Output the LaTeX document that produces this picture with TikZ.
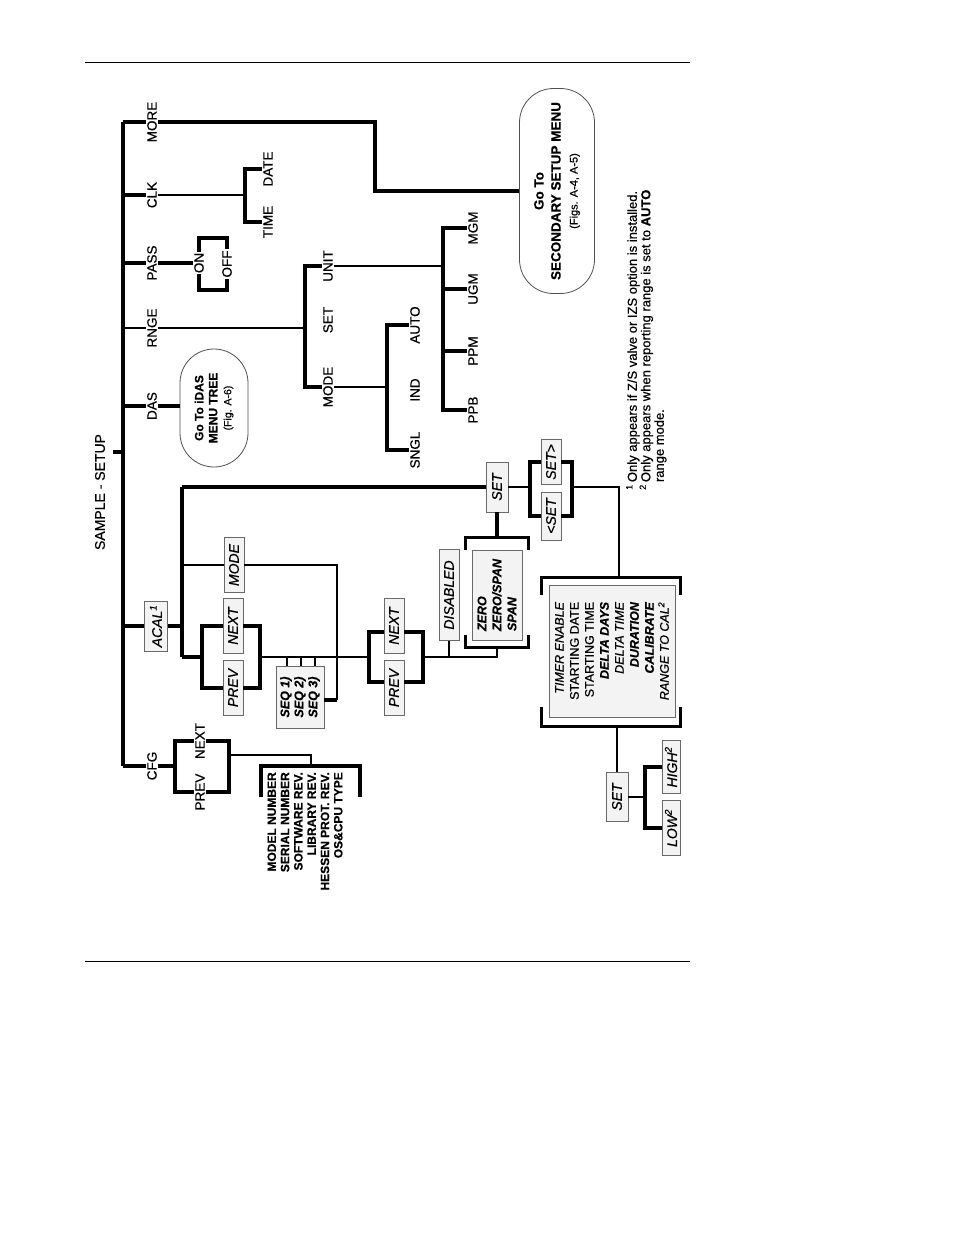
\documentclass[tikz,border=0pt]{standalone}
\usepackage{fontspec}
\setmainfont{Liberation Sans}[FakeBold=0.6]
\usepackage{tikz}
\usetikzlibrary{calc}
\definecolor{keyFill}{RGB}{243,243,243}
\definecolor{keyEdge}{RGB}{105,105,105}
\definecolor{gotoEdge}{RGB}{80,80,80}
\tikzset{
  menuLabel/.style={rotate=90,inner sep=1pt,font=\fontsize{13.5}{14}\selectfont},
  keyBox/.style={rotate=90,draw=keyEdge,fill=keyFill,line width=.9pt,inner sep=1pt,font=\itshape\fontsize{14}{14}\selectfont},
  gotoBox/.style={rotate=90,rectangle,rounded corners=34pt,draw=gotoEdge,line width=.8pt,align=center,inner sep=1pt},
  thickLink/.style={line width=3.3pt},
  thinLink/.style={line width=2pt},
}
\begin{document}
\begin{tikzpicture}[x=1pt,y=-1pt]
\useasboundingbox (0,0) rectangle (954,1235);
\draw[line width=1pt] (85,62) -- (690,62);
\draw[line width=1pt] (85,961) -- (690,961);

\node[menuLabel,font=\fontsize{14}{14}\selectfont] (title) at (100,492) {SAMPLE - SETUP};
\coordinate (trunkTop) at (123,122);
\coordinate (trunkBot) at (123,766);
\coordinate (titleTap) at (123,452);
\draw[thickLink] (trunkTop) -- (trunkBot);
\draw[thickLink] (titleTap) -- ++(-10,0);

\node[menuLabel] (more) at (152,122) {MORE};
\node[menuLabel] (clk) at (152,195) {CLK};
\node[menuLabel] (pass) at (152,263) {PASS};
\node[menuLabel] (rnge) at (152,328) {RNGE};
\node[menuLabel] (das) at (152,406) {DAS};
\node[keyBox,minimum width=50pt,minimum height=23pt] (acal) at (156,626) {ACAL\textsuperscript{1}};
\node[menuLabel] (cfg) at (152,766) {CFG};
\foreach \lbl in {more,clk,pass,das,acal}
  \draw[thickLink] (\lbl -| trunkTop) -- (\lbl);
\draw[thinLink] (rnge -| trunkTop) -- (rnge);
\draw[thickLink] (trunkBot) -- (cfg);

\coordinate (moreBend) at (375,122);
\node[gotoBox,minimum width=205pt,minimum height=75pt,font=\bfseries\fontsize{13.5}{17}\selectfont] (secondary) at (557,191)
  {Go To\\SECONDARY SETUP MENU\\{\mdseries\fontsize{11}{15}\selectfont (Figs. A-4, A-5)}};
\draw[thickLink] (more) -- (moreBend) |- (secondary);

\coordinate (clkJ) at (245,195);
\node[menuLabel] (date) at (268,169) {DATE};
\node[menuLabel] (time) at (268,222) {TIME};
\draw[thinLink] (clk) -- (clkJ);
\draw[thickLink] (date) -| (clkJ) |- (time);

\node[menuLabel] (on) at (199,263) {ON};
\node[menuLabel] (off) at (227,264) {OFF};
\coordinate (passRingTop) at (213,238);
\coordinate (passRingBot) at (213,290);
\draw[thickLink] (pass) -- (on);
\draw[thickLink] (on.east) |- (passRingTop) -| (off.east);
\draw[thickLink] (on.west) |- (passRingBot) -| (off.west);

\coordinate (rngeJ) at (305,328);
\node[menuLabel] (unit) at (328,266) {UNIT};
\node[menuLabel] (rngeSet) at (328,320) {SET};
\node[menuLabel] (rngeMode) at (328,387) {MODE};
\draw[thinLink] (rnge) -- (rngeJ);
\draw[thickLink] (unit) -| (rngeJ) |- (rngeMode);

\coordinate (unitJ) at (443,266);
\node[menuLabel] (mgm) at (473,228) {MGM};
\node[menuLabel] (ugm) at (473,289) {UGM};
\node[menuLabel] (ppm) at (473,351) {PPM};
\node[menuLabel] (ppb) at (473,410) {PPB};
\draw[thinLink] (unit) -- (unitJ);
\draw[thickLink] (mgm) -| (unitJ) |- (ppb);
\draw[thickLink] (ugm) -- (ugm -| unitJ);
\draw[thickLink] (ppm) -- (ppm -| unitJ);

\coordinate (modeJ) at (387,387);
\node[menuLabel] (rangeAuto) at (415,325) {AUTO};
\node[menuLabel] (rangeInd) at (415,390) {IND};
\node[menuLabel] (rangeSngl) at (415,450) {SNGL};
\draw[thinLink] (rngeMode) -- (modeJ);
\draw[thickLink] (rangeAuto) -| (modeJ) |- (rangeSngl);

\node[gotoBox,minimum width=118pt,minimum height=68pt,font=\bfseries\fontsize{12}{14}\selectfont] (idas) at (214,408)
  {Go To iDAS\\MENU TREE\\{\mdseries\fontsize{10.5}{14}\selectfont (Fig. A-6)}};
\draw[thickLink] (das) -- (das -| idas.north);

\coordinate (acalJ) at (182,626);
\coordinate (acalTop) at (182,487);
\coordinate (acalBot) at (182,657);
\node[keyBox,minimum width=50pt,minimum height=22pt] (setA) at (497,487) {SET};
\node[keyBox,minimum width=55pt,minimum height=20pt] (modeA) at (234,565) {MODE};
\node[keyBox,minimum width=55pt,minimum height=20pt] (nextA) at (233,626) {NEXT};
\node[keyBox,minimum width=55pt,minimum height=20pt] (prevA) at (233,688) {PREV};
\node[keyBox,minimum width=62pt,minimum height=48pt,align=left,font=\bfseries\itshape\fontsize{12.5}{14}\selectfont] (seq) at (300,697) {SEQ 1)\\SEQ 2)\\SEQ 3)};
\draw[thickLink] (acal) -- (acalJ);
\draw[thickLink] (acalTop) -- (acalBot);
\draw[thickLink] (acalTop) -- (setA);
\coordinate (seqTurn) at (337,700);
\draw[thinLink] (modeA -| acalJ) -- (modeA);
\draw[thinLink] (modeA) -| (seqTurn);
\draw[thickLink] (seqTurn) -- (seq.south |- seqTurn);

\coordinate (ringAL) at (202,657);
\coordinate (ringAR) at (260,657);
\coordinate (ringBL) at (369,657);
\coordinate (ringBR) at (423,657);
\draw[thickLink] (nextA) -| (ringAL) |- (prevA);
\draw[thickLink] (nextA) -| (ringAR) |- (prevA);
\draw[thickLink] (acalBot) -- (ringAL);
\draw[thinLink] (ringAR) -- (ringBL);
\foreach \f in {0.23,0.52,0.81}
  \draw[thinLink] ($(seq.north east)!\f!(seq.south east)$) -- ++(0,-9);

\node[keyBox,minimum width=55pt,minimum height=20pt] (nextB) at (394,626) {NEXT};
\node[keyBox,minimum width=55pt,minimum height=20pt] (prevB) at (394,688) {PREV};
\draw[thickLink] ([yshift=-6pt]nextB.north) -| (ringBL) |- ([yshift=6pt]prevB.north);
\draw[thickLink] ([yshift=-6pt]nextB.south) -| (ringBR) |- ([yshift=6pt]prevB.south);

\node[keyBox,minimum width=91pt,minimum height=20pt] (disabled) at (449,595) {DISABLED};
\node[keyBox,minimum width=90pt,minimum height=50pt,align=left,font=\bfseries\itshape\fontsize{12.5}{15}\selectfont] (zero) at (497,595) {ZERO\\ZERO/SPAN\\SPAN};
\coordinate (zeroTop) at ($(zero.east)+(0,-12)$);
\coordinate (zeroBot) at ($(zero.west)+(0,7)$);
\draw[thickLink] ($(zero.north east)+(-6,0)$) |- (zeroTop) -| ($(zero.south east)+(6,0)$);
\draw[thickLink] ($(zero.north west)+(-6,-5)$) |- (zeroBot) -| ($(zero.south west)+(6,-5)$);
\draw[thickLink] (setA) -- (zeroTop);
\draw[thinLink] (ringBR) -| (zeroBot);
\draw[thinLink] (disabled) -- (disabled |- ringBR);

\coordinate (ringCL) at (530,487);
\coordinate (ringCR) at (572,487);
\node[keyBox,minimum width=45pt,minimum height=20pt] (setRight) at (551,462) {SET>};
\node[keyBox,minimum width=48pt,minimum height=20pt] (setLeft) at (551,516) {<SET};
\draw[thinLink] (setA) -- (ringCL);
\draw[thickLink] (setRight) -| (ringCL) |- (setLeft);
\draw[thickLink] (setRight) -| (ringCR) |- (setLeft);

\node[keyBox,minimum width=132pt,minimum height=126pt,align=right,font=\fontsize{12.5}{15}\selectfont] (timer) at (612,651)
  {\textit{TIMER ENABLE}\\STARTING DATE\\STARTING TIME\\\textbf{\textit{DELTA DAYS}}\\\textit{DELTA TIME}\\\textbf{\textit{DURATION}}\\\textbf{\textit{CALIBRATE}}\\\textit{RANGE TO CAL\textsuperscript{2}}};
\coordinate (timerTop) at ($(timer.east)+(7,-7)$);
\coordinate (timerBot) at ($(timer.west)+(5,9)$);
\draw[thinLink] (ringCR) -| (timerTop);
\draw[thickLink] ($(timer.north east)+(-7,10)$) |- (timerTop) -| ($(timer.south east)+(5,10)$);
\draw[thickLink] ($(timer.north west)+(-7,-10)$) |- (timerBot) -| ($(timer.south west)+(5,-10)$);

\node[keyBox,minimum width=49pt,minimum height=22pt] (setC) at (617,797) {SET};
\node[keyBox,minimum width=53pt,minimum height=18pt] (high) at (671,767) {HIGH\textsuperscript{2}};
\node[keyBox,minimum width=55pt,minimum height=18pt] (low) at (671,828) {LOW\textsuperscript{2}};
\coordinate (levelJ) at (645,797);
\draw[thinLink] (timerBot) -- (setC);
\draw[thinLink] (setC) -- (levelJ);
\draw[thickLink] (high) -| (levelJ) |- (low);

\coordinate (cfgJ) at (175,766);
\coordinate (cfgR) at (229,755);
\coordinate (infoTop) at (311,766);
\node[menuLabel] (nextC) at (200,741) {NEXT};
\node[menuLabel] (prevC) at (200,792) {PREV};
\draw[thickLink] (cfg) -- (cfgJ);
\draw[thickLink] (nextC) -| (cfgJ) |- (prevC);
\draw[thickLink] (nextC) -| (cfgR) |- (prevC);
\draw[thinLink] (cfgR) -| (infoTop);
\node[rotate=90,anchor=east,align=right,inner sep=0pt,font=\bfseries\fontsize{12}{13.3}\selectfont] (info) at (305,772)
  {MODEL NUMBER\\SERIAL NUMBER\\SOFTWARE REV.\\LIBRARY REV.\\HESSEN PROT. REV.\\OS\&CPU TYPE};
\draw[thickLink] ($(infoTop)+(-50,31)$) |- (infoTop) -| ($(infoTop)+(49,31)$);

\node[rotate=90,anchor=north west,align=left,inner sep=0pt,font=\fontsize{13}{13.5}\selectfont] (notes) at (626,490)
  {\textsuperscript{1}\,Only appears if Z/S valve or IZS option is installed.\\\textsuperscript{2}\,Only appears when reporting range is set to \textbf{AUTO}\\\phantom{\textsuperscript{2}\,}range mode.};
\end{tikzpicture}
\end{document}
